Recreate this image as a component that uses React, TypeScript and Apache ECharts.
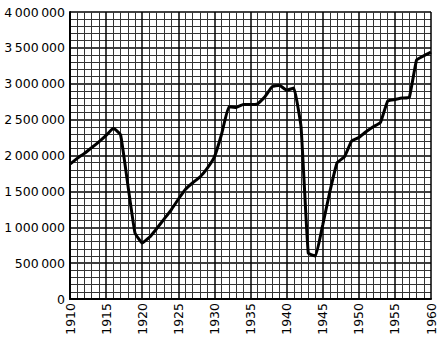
import React, { useEffect, useRef } from "react";
import * as echarts from "echarts";

const years: number[] = [
  1910, 1911, 1912, 1913, 1914, 1915, 1916, 1917, 1918, 1919,
  1920, 1921, 1922, 1923, 1924, 1925, 1926, 1927, 1928, 1929,
  1930, 1931, 1932, 1933, 1934, 1935, 1936, 1937, 1938, 1939,
  1940, 1941, 1942, 1943, 1944, 1945, 1946, 1947, 1948, 1949,
  1950, 1951, 1952, 1953, 1954, 1955, 1956, 1957, 1958, 1959, 1960,
];

const values: number[] = [
  1880000, 1960000, 2030000, 2110000, 2190000, 2280000, 2380000, 2290000, 1600000, 920000,
  780000, 860000, 980000, 1110000, 1240000, 1390000, 1530000, 1620000, 1700000, 1820000,
  1980000, 2300000, 2680000, 2670000, 2710000, 2710000, 2720000, 2820000, 2960000, 2980000,
  2910000, 2940000, 2400000, 640000, 600000, 1030000, 1500000, 1900000, 1980000, 2200000,
  2250000, 2330000, 2400000, 2460000, 2760000, 2780000, 2800000, 2810000, 3330000, 3390000, 3440000,
];

const yTicks: number[] = [0, 500000, 1000000, 1500000, 2000000, 2500000, 3000000, 3500000, 4000000];
const xTicks: number[] = [1910, 1915, 1920, 1925, 1930, 1935, 1940, 1945, 1950, 1955, 1960];

function fmt(v: number): string {
  return String(v).replace(/\B(?=(\d{3})+(?!\d))/g, "\u2009");
}

export default function App() {
  const ref = useRef<HTMLDivElement>(null);
  useEffect(() => {
    if (!ref.current) return;
    const chart = echarts.init(ref.current, undefined, { renderer: "svg" });
    const font = "DejaVu Sans";
    chart.setOption({
      animation: false,
      backgroundColor: "#ffffff",
      grid: { left: 70, right: 11, top: 12, bottom: 48, containLabel: false },
      xAxis: {
        type: "value",
        min: xTicks[0],
        max: xTicks[xTicks.length - 1],
        interval: 5,
        axisLine: { show: true, lineStyle: { color: "#000", width: 2 } },
        axisTick: { show: false },
        axisLabel: {
          rotate: 90,
          margin: 4,
          color: "#000",
          fontFamily: font,
          fontSize: 12.5,
          formatter: (v: number) => String(v),
        },
        splitLine: { show: true, lineStyle: { color: "#000", width: 1.5 } },
        minorTick: { show: false, splitNumber: 5 },
        minorSplitLine: { show: true, lineStyle: { color: "#333", width: 1 } },
      },
      yAxis: {
        type: "value",
        min: 0,
        max: yTicks[yTicks.length - 1],
        interval: 500000,
        axisLine: { show: true, lineStyle: { color: "#000", width: 2 } },
        axisTick: { show: false },
        axisLabel: {
          margin: 5,
          color: "#000",
          fontFamily: font,
          fontSize: 12.5,
          formatter: (v: number) => fmt(v),
        },
        splitLine: { show: true, lineStyle: { color: "#000", width: 1.5 } },
        minorTick: { show: false, splitNumber: 5 },
        minorSplitLine: { show: true, lineStyle: { color: "#333", width: 1 } },
      },
      series: [
        {
          type: "line",
          data: years.map((y, i) => [y, values[i]]),
          showSymbol: false,
          smooth: 0.1,
          lineStyle: { color: "#000", width: 3 },
          z: 5,
        },
      ],
    });
    return () => chart.dispose();
  }, []);
  return <div ref={ref} style={{ width: 442, height: 347, position: "absolute", left: 0, top: 0 }} />;
}
